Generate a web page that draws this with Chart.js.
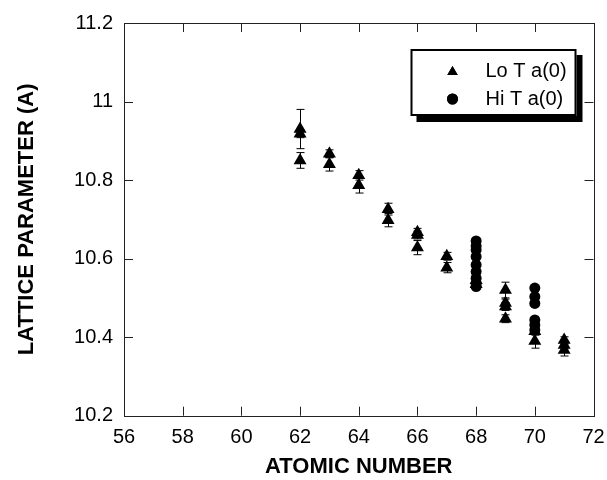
<!DOCTYPE html>
<html>
<head>
<meta charset="utf-8">
<script src="https://cdn.jsdelivr.net/npm/chart.js@4"></script>
<style>
  body { margin: 0; background: #fff; }
  #wrap { width: 607px; height: 480px; }
</style>
</head>
<body>
<div id="wrap"><canvas id="latticeChart" width="607" height="480"></canvas></div>
<script>
const seriesNames = ['Lo T a(0)', 'Hi T a(0)'];

// low temperature fits (with error bars)
const loZ   = [62, 62, 62, 63, 63, 64, 64, 65, 65, 66, 66, 66, 67, 67, 68, 68, 69, 69, 69, 69, 70, 70, 71, 71, 71];
const loA   = [10.93, 10.918, 10.85, 10.867, 10.84, 10.812, 10.787, 10.726, 10.698, 10.667, 10.66, 10.628,
               10.606, 10.577, 10.545, 10.535, 10.52, 10.487, 10.478, 10.447, 10.415, 10.39, 10.393, 10.38, 10.367];
const loErr = [0.05, 0.01, 0.02, 0.01, 0.017, 0.012, 0.02, 0.015, 0.017, 0.01, 0.01, 0.018,
               0.01, 0.013, 0.01, 0.013, 0.02, 0.01, 0.01, 0.01, 0.01, 0.018, 0.008, 0.01, 0.015];

// high temperature fits
const hiZ = [68, 68, 68, 68, 68, 68, 68, 68, 68, 70, 70, 70, 70, 70, 70];
const hiA = [10.645, 10.632, 10.622, 10.605, 10.584, 10.567, 10.55, 10.537, 10.529,
             10.525, 10.503, 10.486, 10.444, 10.431, 10.418];

const xTicks = [56, 58, 60, 62, 64, 66, 68, 70, 72];
const yTicks = [10.2, 10.4, 10.6, 10.8, 11, 11.2];
const yTickLabels = ['10.2', '10.4', '10.6', '10.8', '11', '11.2'];

const FONT = 'Liberation Sans, Arial, Helvetica, sans-serif';

function toPoints(xs, ys) {
    return xs.map((x, i) => ({ x: x, y: ys[i] }));
}

function drawMarker(ctx, style, r, x, y) {
    if (Chart.helpers && Chart.helpers.drawPoint) {
        Chart.helpers.drawPoint(ctx, { pointStyle: style, radius: r, rotation: 0, borderWidth: 0 }, x, y);
        ctx.fill();
        return;
    }
    ctx.beginPath();
    if (style === 'triangle') {
        ctx.moveTo(x, y - r);
        ctx.lineTo(x + r * 0.866, y + r / 2);
        ctx.lineTo(x - r * 0.866, y + r / 2);
        ctx.closePath();
    } else {
        ctx.arc(x, y, r, 0, Math.PI * 2);
    }
    ctx.fill();
}

const framePlugin = {
    id: 'frame',
    beforeDatasetsDraw(chart) {
        const ctx = chart.ctx;
        const xs = chart.scales.x, ys = chart.scales.y;
        // error bars under the markers
        ctx.save();
        ctx.strokeStyle = '#000';
        ctx.lineWidth = 1;
        loZ.forEach((z, i) => {
            const px = Math.round(xs.getPixelForValue(z)) + 0.5;
            const top = ys.getPixelForValue(loA[i] + loErr[i]);
            const bot = ys.getPixelForValue(loA[i] - loErr[i]);
            ctx.beginPath();
            ctx.moveTo(px, top); ctx.lineTo(px, bot);
            ctx.moveTo(px - 4, top); ctx.lineTo(px + 4, top);
            ctx.moveTo(px - 4, bot); ctx.lineTo(px + 4, bot);
            ctx.stroke();
        });
        ctx.restore();
    },
    afterDraw(chart) {
        const ctx = chart.ctx;
        const a = chart.chartArea;
        const xs = chart.scales.x, ys = chart.scales.y;
        const tick = 9;
        ctx.save();
        ctx.strokeStyle = '#222';
        ctx.lineWidth = 1;
        ctx.strokeRect(Math.round(a.left) + 0.5, Math.round(a.top) + 0.5,
                       Math.round(a.right - a.left), Math.round(a.bottom - a.top));
        ctx.beginPath();
        xTicks.forEach(v => {
            const px = Math.round(xs.getPixelForValue(v)) + 0.5;
            ctx.moveTo(px, a.bottom); ctx.lineTo(px, a.bottom - tick);
            ctx.moveTo(px, a.top); ctx.lineTo(px, a.top + tick);
        });
        yTicks.forEach(v => {
            const py = Math.round(ys.getPixelForValue(v)) + 0.5;
            ctx.moveTo(a.left, py); ctx.lineTo(a.left + tick, py);
            ctx.moveTo(a.right, py); ctx.lineTo(a.right - tick, py);
        });
        ctx.stroke();

        // legend box with drop shadow
        const bx = a.right - 183, by = a.top + 26, bw = 166, bh = 67;
        ctx.fillStyle = '#000';
        ctx.fillRect(bx + 6, by + 6, bw, bh);
        ctx.fillStyle = '#fff';
        ctx.fillRect(bx, by, bw, bh);
        ctx.lineWidth = 2;
        ctx.strokeStyle = '#000';
        ctx.strokeRect(bx + 1, by + 1, bw - 2, bh - 2);

        const styles = ['triangle', 'circle'];
        const radii = [6, 5.5];
        ctx.fillStyle = '#000';
        ctx.font = '20px ' + FONT;
        ctx.textBaseline = 'middle';
        ctx.textAlign = 'left';
        seriesNames.forEach((name, i) => {
            const ly = by + 22 + i * 28;
            drawMarker(ctx, styles[i], radii[i], bx + 42, ly + (i === 0 ? 1 : 0));
            ctx.fillText(name, bx + 75, ly);
        });
        ctx.restore();
    }
};

const chart = new Chart(document.getElementById('latticeChart'), {
    type: 'scatter',
    data: {
        datasets: [
            {
                label: seriesNames[0],
                data: toPoints(loZ, loA),
                pointStyle: 'triangle',
                pointRadius: 7.5,
                pointHoverRadius: 7.5,
                backgroundColor: '#000',
                borderColor: '#000',
                borderWidth: 0,
                order: 1
            },
            {
                label: seriesNames[1],
                data: toPoints(hiZ, hiA),
                pointStyle: 'circle',
                pointRadius: 5.5,
                pointHoverRadius: 5.5,
                backgroundColor: '#000',
                borderColor: '#000',
                borderWidth: 0,
                order: 0
            }
        ]
    },
    options: {
        responsive: false,
        animation: false,
        devicePixelRatio: 1,
        layout: { padding: { top: 23, right: 13.5, left: 0, bottom: 0 } },
        plugins: {
            legend: { display: false },
            tooltip: { enabled: false }
        },
        scales: {
            x: {
                type: 'linear',
                min: 56,
                max: 72,
                afterBuildTicks: s => { s.ticks = xTicks.map(v => ({ value: v })); },
                afterFit: s => { s.height = 64.3; s.paddingLeft = 0; s.paddingRight = 0; },
                grid: { display: false, drawTicks: false },
                border: { display: false },
                ticks: {
                    color: '#000',
                    padding: 10,
                    maxRotation: 0,
                    font: { family: FONT, size: 20 },
                    callback: v => String(v)
                },
                title: {
                    display: true,
                    text: 'ATOMIC NUMBER',
                    color: '#000',
                    padding: { top: 0, bottom: 0 },
                    font: { family: FONT, size: 22, weight: 'bold' }
                }
            },
            y: {
                type: 'linear',
                min: 10.2,
                max: 11.2,
                afterBuildTicks: s => { s.ticks = yTicks.map(v => ({ value: v })); },
                afterFit: s => { s.width = 124; s.paddingTop = 0; s.paddingBottom = 0; },
                grid: { display: false, drawTicks: false },
                border: { display: false },
                ticks: {
                    color: '#000',
                    padding: 11,
                    font: { family: FONT, size: 20 },
                    callback: (v, i) => yTickLabels[i]
                },
                title: {
                    display: true,
                    text: 'LATTICE PARAMETER (A)',
                    color: '#000',
                    padding: { top: 14, bottom: 0 },
                    font: { family: FONT, size: 22, weight: 'bold' }
                }
            }
        }
    },
    plugins: [framePlugin]
});
</script>
</body>
</html>
